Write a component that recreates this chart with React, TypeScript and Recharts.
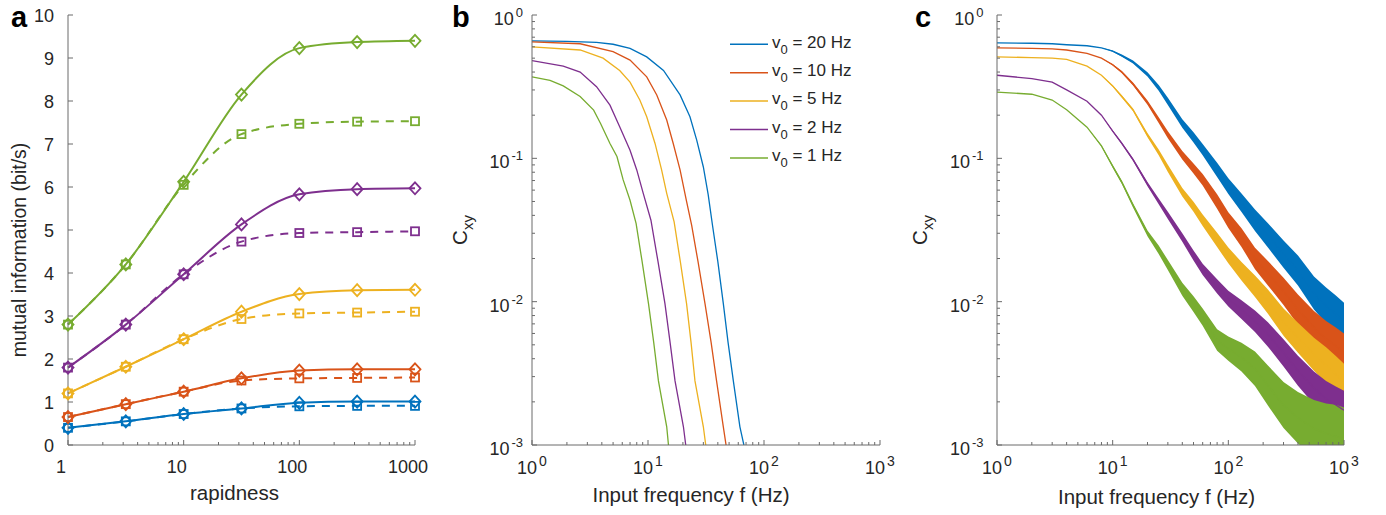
import React from 'react';
import { LineChart, ComposedChart, Line, Area, XAxis, YAxis, Legend } from 'recharts';

const FONT = '"Liberation Sans", Arial, Helvetica, sans-serif';
const INK = '#262626';
const AXIS = '#6a6a6a';

const BLUE = '#0072BD';
const ORANGE = '#D95319';
const YELLOW = '#EDB120';
const PURPLE = '#7E2F8E';
const GREEN = '#77AC30';
const colors = [BLUE, ORANGE, YELLOW, PURPLE, GREEN];

// ---- panel a : mutual information vs rapidness
const rapidness = [1, 3.16, 10, 31.6, 100, 316, 1000];
const miSolidBlue = [0.4, 0.55, 0.72, 0.85, 0.98, 1.01, 1.01];
const miDashBlue = [0.4, 0.55, 0.72, 0.85, 0.9, 0.91, 0.91];
const miSolidOrange = [0.65, 0.95, 1.24, 1.55, 1.73, 1.76, 1.76];
const miDashOrange = [0.65, 0.95, 1.24, 1.5, 1.55, 1.56, 1.57];
const miSolidYellow = [1.2, 1.82, 2.46, 3.1, 3.51, 3.6, 3.61];
const miDashYellow = [1.2, 1.82, 2.46, 2.93, 3.06, 3.08, 3.1];
const miSolidPurple = [1.8, 2.8, 3.97, 5.13, 5.83, 5.95, 5.97];
const miDashPurple = [1.8, 2.8, 3.97, 4.73, 4.93, 4.95, 4.97];
const miSolidGreen = [2.8, 4.2, 6.12, 8.15, 9.23, 9.37, 9.4];
const miDashGreen = [2.8, 4.2, 6.05, 7.23, 7.47, 7.52, 7.53];
const miTicks = [0, 1, 2, 3, 4, 5, 6, 7, 8, 9, 10];

// ---- panel b : coherence, v0 = 20, 10, 5, 2, 1 Hz
const rateLabels = ['20 Hz', '10 Hz', '5 Hz', '2 Hz', '1 Hz'];
const freqBlueB = [1, 2, 3.6, 5, 7, 9.75, 13.6, 18.9, 23, 26.3, 30, 33, 36, 40, 44.6, 49, 54.4, 62, 69];
const cBlueB = [0.66, 0.655, 0.645, 0.625, 0.585, 0.51, 0.41, 0.277, 0.195, 0.134, 0.087, 0.056, 0.034, 0.019, 0.0097, 0.0052, 0.0028, 0.00134, 0.0009];
const freqOrangeB = [1, 2.6, 5, 7, 9.75, 11.9, 14.5, 16.5, 18.9, 21.5, 23.8, 27, 31, 35, 39, 44.6, 48];
const cOrangeB = [0.65, 0.63, 0.555, 0.485, 0.37, 0.277, 0.185, 0.127, 0.083, 0.05, 0.034, 0.019, 0.0097, 0.0052, 0.0028, 0.00134, 0.0009];
const freqYellowB = [1, 2.6, 4.1, 5.7, 7, 8.5, 9.75, 11.5, 13.1, 14.5, 16.8, 19, 21.5, 23.5, 25.4, 30, 32];
const cYellowB = [0.6, 0.57, 0.5, 0.41, 0.34, 0.255, 0.195, 0.127, 0.083, 0.057, 0.036, 0.019, 0.0097, 0.0052, 0.0028, 0.00134, 0.0009];
const freqPurpleB = [1, 1.86, 2.6, 3.6, 4.7, 5.7, 7, 8, 9.1, 10.6, 12.2, 14, 15.5, 17.1, 20.2, 21.5];
const cPurpleB = [0.48, 0.44, 0.4, 0.316, 0.235, 0.166, 0.114, 0.083, 0.057, 0.037, 0.019, 0.0097, 0.0052, 0.0028, 0.00134, 0.0009];
const freqGreenB = [1, 1.43, 1.86, 2.6, 3.4, 3.9, 4.7, 5.4, 6.1, 7, 7.9, 8.9, 10.1, 11.2, 12.3, 14.5, 15.2];
const cGreenB = [0.37, 0.35, 0.32, 0.27, 0.217, 0.175, 0.127, 0.103, 0.071, 0.051, 0.035, 0.019, 0.0097, 0.0052, 0.0028, 0.00134, 0.0009];

// ---- panel c : coherence, same rates, wider band
const freqC = [1, 2, 3, 4, 6, 8, 10, 12, 15, 20, 25, 30, 40, 50, 60, 80, 100, 130, 170, 220, 300, 400, 550, 700, 850, 1000];
const cBlueC = [0.64, 0.635, 0.63, 0.62, 0.61, 0.59, 0.56, 0.52, 0.47, 0.385, 0.31, 0.25, 0.175, 0.14, 0.115, 0.083, 0.064, 0.049, 0.037, 0.029, 0.0215, 0.0165, 0.0115, 0.0094, 0.0082, 0.0072];
const cOrangeC = [0.59, 0.585, 0.58, 0.57, 0.54, 0.5, 0.45, 0.4, 0.33, 0.245, 0.185, 0.146, 0.105, 0.085, 0.071, 0.05, 0.037, 0.028, 0.02, 0.0158, 0.0118, 0.0088, 0.0066, 0.0055, 0.0049, 0.0044];
const cYellowC = [0.51, 0.505, 0.5, 0.49, 0.44, 0.38, 0.32, 0.27, 0.218, 0.145, 0.11, 0.085, 0.058, 0.046, 0.037, 0.027, 0.021, 0.0163, 0.0128, 0.01, 0.0072, 0.0056, 0.0043, 0.0036, 0.0031, 0.0027];
const cPurpleC = [0.38, 0.36, 0.34, 0.3, 0.25, 0.2, 0.155, 0.127, 0.098, 0.066, 0.05, 0.04, 0.028, 0.021, 0.0168, 0.0128, 0.0105, 0.0088, 0.0073, 0.0059, 0.0044, 0.0033, 0.0025, 0.0021, 0.0019, 0.00175];
const cGreenC = [0.29, 0.28, 0.255, 0.218, 0.165, 0.122, 0.088, 0.068, 0.047, 0.03, 0.023, 0.018, 0.0122, 0.0096, 0.0078, 0.0054, 0.0047, 0.0041, 0.0034, 0.0026, 0.0019, 0.00155, 0.0013, 0.0012, 0.00115, 0.0011];
// half width of the noise band, in decades
const noiseC = [0, 0, 0, 0, 0, 0, 0.005, 0.008, 0.01, 0.015, 0.02, 0.025, 0.03, 0.035, 0.04, 0.05, 0.055, 0.065, 0.075, 0.085, 0.095, 0.105, 0.115, 0.125, 0.13, 0.135];
const noiseGreenC = [0, 0, 0, 0, 0, 0.005, 0.01, 0.012, 0.015, 0.02, 0.03, 0.035, 0.045, 0.055, 0.06, 0.075, 0.085, 0.1, 0.12, 0.14, 0.16, 0.18, 0.2, 0.21, 0.22, 0.22];

const logTicks = (e0: number, e1: number) => {
  const out: number[] = [];
  for (let e = e0; e < e1; e++) for (let m = 1; m < 10; m++) out.push(Number((m * Math.pow(10, e)).toPrecision(2)));
  out.push(Math.pow(10, e1));
  return out;
};
const isPow10 = (v: number) => Math.abs(Math.log10(v) - Math.round(Math.log10(v))) < 1e-6;

const pairs = (xs: number[], ys: number[]) => xs.map((x, i) => ({ x, y: ys[i] }));

const seriesA = [
  { color: BLUE, solid: miSolidBlue, dash: miDashBlue },
  { color: ORANGE, solid: miSolidOrange, dash: miDashOrange },
  { color: YELLOW, solid: miSolidYellow, dash: miDashYellow },
  { color: PURPLE, solid: miSolidPurple, dash: miDashPurple },
  { color: GREEN, solid: miSolidGreen, dash: miDashGreen },
];

const seriesB = [
  pairs(freqBlueB, cBlueB),
  pairs(freqOrangeB, cOrangeB),
  pairs(freqYellowB, cYellowB),
  pairs(freqPurpleB, cPurpleB),
  pairs(freqGreenB, cGreenB),
];

const seriesC = [
  { key: 'blue', c: cBlueC, noise: noiseC },
  { key: 'orange', c: cOrangeC, noise: noiseC },
  { key: 'yellow', c: cYellowC, noise: noiseC },
  { key: 'purple', c: cPurpleC, noise: noiseC },
  { key: 'green', c: cGreenC, noise: noiseGreenC },
];
const rowsC = freqC.map((f, i) => {
  const row: any = { f };
  seriesC.forEach((s) => {
    const k = Math.pow(10, s.noise[i]);
    row[s.key] = s.c[i];
    row[s.key + 'Band'] = [s.c[i] / k, s.c[i] * k];
  });
  return row;
});

// ---- markers
const Diamond = (p: any) => {
  const { cx, cy, index, stroke } = p;
  if (cx == null || cy == null) return <g key={'d' + index} />;
  return (
    <path key={'d' + index} d={`M${cx},${cy - 6}L${cx + 5.5},${cy}L${cx},${cy + 6}L${cx - 5.5},${cy}Z`}
      fill="none" stroke={stroke} strokeWidth={1.8} />
  );
};
const Square = (p: any) => {
  const { cx, cy, index, stroke } = p;
  if (cx == null || cy == null) return <g key={'s' + index} />;
  return <rect key={'s' + index} x={cx - 4} y={cy - 4} width={8} height={8} fill="none" stroke={stroke} strokeWidth={1.8} />;
};

// ---- ticks (inside, MATLAB style)
const txt = { fontFamily: FONT, fill: INK };

const XTickA = ({ x, y, payload }: any) => {
  const v = payload.value;
  const major = isPow10(v);
  return (
    <g>
      <line x1={x} x2={x} y1={y} y2={y - (major ? 5 : 3)} stroke={AXIS} />
      {major && <text x={x - 7} y={y + 28} textAnchor="middle" fontSize={18} {...txt}>{v}</text>}
    </g>
  );
};
const YTickA = ({ x, y, payload }: any) => (
  <g>
    <line x1={x} x2={x + 5} y1={y} y2={y} stroke={AXIS} />
    <text x={x - 14} y={y + 6.5} textAnchor="end" fontSize={18} {...txt}>{payload.value}</text>
  </g>
);
const XTickLog = ({ x, y, payload }: any) => {
  const v = payload.value;
  const major = isPow10(v);
  return (
    <g>
      <line x1={x} x2={x} y1={y} y2={y - (major ? 5 : 3)} stroke={AXIS} />
      {major && (
        <text x={x} y={y + 29} textAnchor="middle" fontSize={18} {...txt}>
          10<tspan dx={2} dy={-8} fontSize={14}>{Math.round(Math.log10(v))}</tspan>
        </text>
      )}
    </g>
  );
};
const yTickLog = (gap: number) => ({ x, y, payload }: any) => {
  const v = payload.value;
  const major = isPow10(v);
  return (
    <g>
      <line x1={x} x2={x + (major ? 5 : 3)} y1={y} y2={y} stroke={AXIS} />
      {major && (
        <text x={x - gap} y={y + 10} textAnchor="end" fontSize={18} {...txt}>
          10<tspan dx={2} dy={-8} fontSize={13}>{Math.round(Math.log10(v))}</tspan>
        </text>
      )}
    </g>
  );
};

// ---- axis titles
const xTitle = (text: string, dx: number, base: number) => (p: any) => {
  const vb = p.viewBox || {};
  return (
    <text x={vb.x + vb.width / 2 + dx} y={vb.y + base} textAnchor="middle" fontSize={20.5} {...txt}>{text}</text>
  );
};
const yTitleA = (p: any) => {
  const vb = p.viewBox || {};
  const bx = vb.x + 26;
  const cy = vb.y + vb.height / 2 + 20;
  return (
    <text x={bx} y={cy} transform={`rotate(-90 ${bx} ${cy})`} textAnchor="middle" fontSize={19.5} {...txt}>
      mutual information (bit/s)
    </text>
  );
};
const yTitleC = (p: any) => {
  const vb = p.viewBox || {};
  const bx = vb.x + 27;
  const cy = vb.y + vb.height / 2;
  return (
    <text x={bx} y={cy} transform={`rotate(-90 ${bx} ${cy})`} textAnchor="middle" fontSize={20.5} {...txt}>
      C<tspan dy={6} fontSize={15}>xy</tspan>
    </text>
  );
};

const LegendB = () => (
  <svg width={170} height={150} style={{ overflow: 'visible', display: 'block' }}>
    {rateLabels.map((r, i) => (
      <g key={r}>
        <line x1={5} x2={43} y1={16.3 + i * 28.4} y2={16.3 + i * 28.4} stroke={colors[i]} strokeWidth={1.5} />
        <text x={47} y={19.5 + i * 28.4} fontSize={17} {...txt}>
          v<tspan dy={6} fontSize={13}>0</tspan><tspan dy={-6}> = {r}</tspan>
        </text>
      </g>
    ))}
  </svg>
);

const panelLetter = (left: number): React.CSSProperties => ({
  position: 'absolute', left, top: 2.5, fontFamily: FONT, fontWeight: 'bold', fontSize: 29, lineHeight: '29px', color: '#000',
});

const ticksLog3 = logTicks(0, 3);
const ticksC = logTicks(-3, 0);

export default function App() {
  return (
    <div style={{ position: 'absolute', left: 0, top: 0, width: 1386, height: 515, background: '#fff', overflow: 'hidden' }}>
      <div style={{ position: 'absolute', left: 0, top: 0 }}>
        <LineChart width={440} height={515} margin={{ top: 15, right: 25, bottom: 0, left: 0 }}>
          <XAxis dataKey="x" type="number" scale="log" domain={[1, 1000]} ticks={ticksLog3} interval={0}
            tickSize={0} tickMargin={0} tickLine={false} tick={XTickA} height={70}
            axisLine={{ stroke: AXIS }} label={xTitle('rapidness', -7, 55)} />
          <YAxis type="number" domain={[0, 10]} ticks={miTicks} interval={0} width={68}
            tickSize={0} tickMargin={0} tickLine={false} tick={YTickA} axisLine={{ stroke: AXIS }} label={yTitleA} />
          {seriesA.map((s, i) => (
            <Line key={'dash' + i} data={pairs(rapidness, s.dash)} dataKey="y" type="monotone" stroke={s.color}
              strokeWidth={2} strokeDasharray="8 7" dot={Square} activeDot={false} isAnimationActive={false} />
          ))}
          {seriesA.map((s, i) => (
            <Line key={'solid' + i} data={pairs(rapidness, s.solid)} dataKey="y" type="monotone" stroke={s.color}
              strokeWidth={2} dot={Diamond} activeDot={false} isAnimationActive={false} />
          ))}
        </LineChart>
        <div style={panelLetter(11)}>a</div>
      </div>

      <div style={{ position: 'absolute', left: 440, top: 0, width: 460, height: 515 }}>
        <LineChart width={460} height={515} margin={{ top: 15, right: 20, bottom: 0, left: 0 }}>
          <XAxis dataKey="x" type="number" scale="log" domain={[1, 1000]} ticks={ticksLog3} interval={0}
            allowDataOverflow tickSize={0} tickMargin={0} tickLine={false} tick={XTickLog} height={70}
            axisLine={{ stroke: AXIS }} label={xTitle('Input frequency f (Hz)', -15, 57)} />
          <YAxis type="number" scale="log" domain={[0.001, 1]} ticks={ticksC} interval={0} width={92}
            allowDataOverflow tickSize={0} tickMargin={0} tickLine={false} tick={yTickLog(9)}
            axisLine={{ stroke: AXIS }} label={yTitleC} />
          {seriesB.map((d, i) => (
            <Line key={rateLabels[i]} name={rateLabels[i]} data={d} dataKey="y" type="linear" stroke={colors[i]}
              strokeWidth={1.3} dot={false} activeDot={false} isAnimationActive={false} />
          ))}
          <Legend layout="horizontal" verticalAlign="middle" align="center" content={LegendB}
            wrapperStyle={{ left: 285, top: 28, width: 170, height: 150 }} />
        </LineChart>
        <div style={panelLetter(12)}>b</div>
      </div>

      <div style={{ position: 'absolute', left: 900, top: 0, width: 486, height: 515 }}>
        <ComposedChart width={486} height={515} data={rowsC} margin={{ top: 15, right: 42, bottom: 0, left: 0 }}>
          <XAxis dataKey="f" type="number" scale="log" domain={[1, 1000]} ticks={ticksLog3} interval={0}
            allowDataOverflow tickSize={0} tickMargin={0} tickLine={false} tick={XTickLog} height={70}
            axisLine={{ stroke: AXIS }} label={xTitle('Input frequency f (Hz)', -14, 59)} />
          <YAxis type="number" scale="log" domain={[0.001, 1]} ticks={ticksC} interval={0} width={97}
            allowDataOverflow tickSize={0} tickMargin={0} tickLine={false} tick={yTickLog(13.5)}
            axisLine={{ stroke: AXIS }} label={yTitleC} />
          {seriesC.flatMap((s, i) => [
            <Area key={s.key + 'a'} dataKey={s.key + 'Band'} type="linear" stroke="none" fill={colors[i]}
              fillOpacity={1} activeDot={false} isAnimationActive={false} />,
            <Line key={s.key + 'l'} dataKey={s.key} type="linear" stroke={colors[i]} strokeWidth={1.3}
              dot={false} activeDot={false} isAnimationActive={false} />,
          ])}
        </ComposedChart>
        <div style={panelLetter(15)}>c</div>
      </div>
    </div>
  );
}
